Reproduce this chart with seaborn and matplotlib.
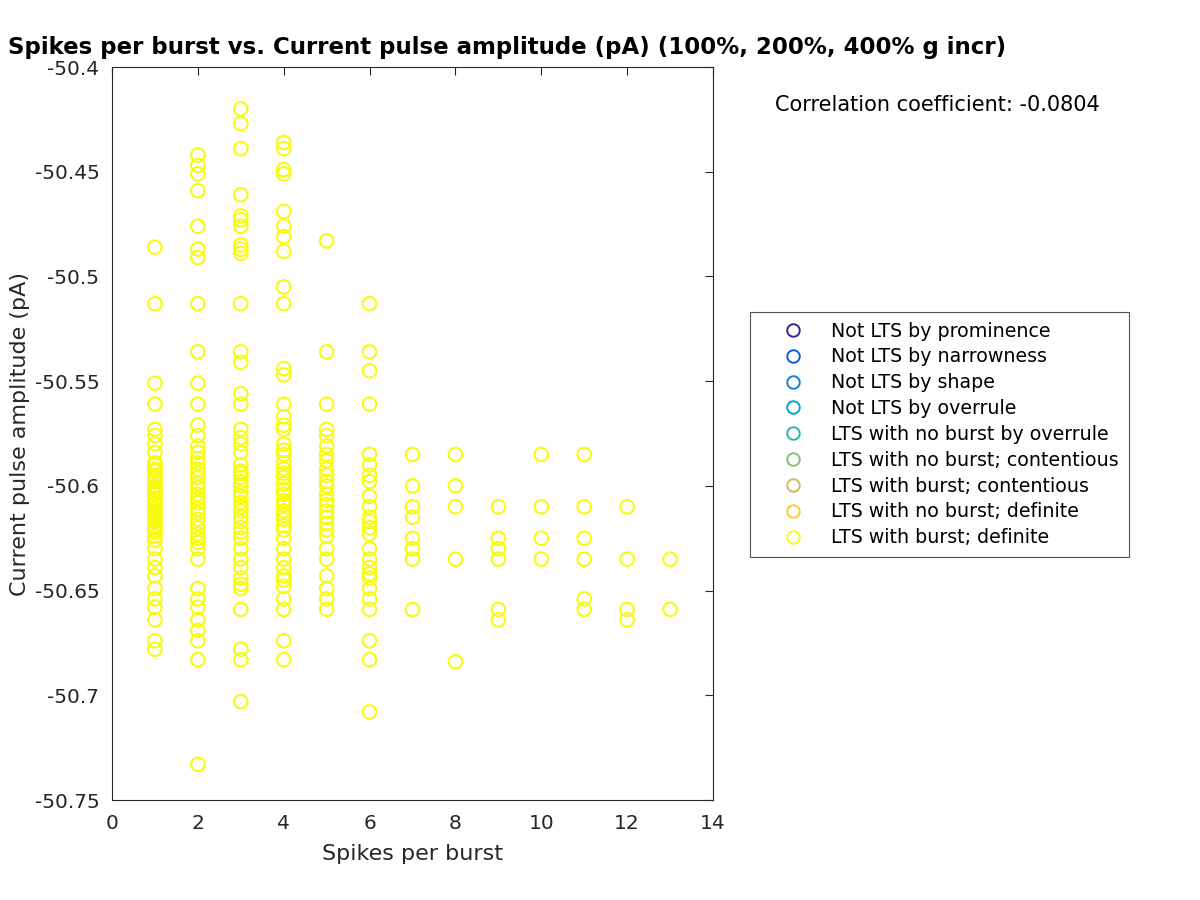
import numpy as np
import pandas as pd
import matplotlib
matplotlib.use("Agg")
import matplotlib.pyplot as plt
import seaborn as sns
from matplotlib.lines import Line2D
from matplotlib.ticker import FuncFormatter

# ---- data ----
amp_1 = [-50.486, -50.513, -50.551, -50.561, -50.573, -50.576, -50.580, -50.584, -50.589,
         -50.590, -50.592, -50.593, -50.595, -50.596, -50.597, -50.598, -50.600, -50.601,
         -50.602, -50.603, -50.604, -50.606, -50.607, -50.608, -50.609, -50.611, -50.612,
         -50.613, -50.615, -50.616, -50.617, -50.619, -50.620, -50.621, -50.622, -50.624,
         -50.626, -50.630, -50.635, -50.639, -50.643, -50.649, -50.654, -50.658, -50.664,
         -50.674, -50.678]
amp_2 = [-50.442, -50.447, -50.451, -50.459, -50.476, -50.487, -50.491, -50.513, -50.536,
         -50.551, -50.561, -50.571, -50.576, -50.581, -50.584, -50.587, -50.589, -50.592,
         -50.594, -50.596, -50.599, -50.601, -50.604, -50.606, -50.608, -50.611, -50.613,
         -50.616, -50.618, -50.620, -50.623, -50.625, -50.627, -50.630, -50.635, -50.649,
         -50.654, -50.658, -50.664, -50.669, -50.674, -50.683, -50.733]
amp_3 = [-50.420, -50.427, -50.439, -50.461, -50.471, -50.473, -50.476, -50.485, -50.487,
         -50.489, -50.513, -50.536, -50.541, -50.556, -50.561, -50.573, -50.577, -50.580,
         -50.584, -50.590, -50.593, -50.594, -50.596, -50.598, -50.600, -50.603, -50.605,
         -50.608, -50.610, -50.612, -50.615, -50.617, -50.620, -50.622, -50.625, -50.630,
         -50.635, -50.639, -50.644, -50.647, -50.649, -50.659, -50.678, -50.683, -50.703]
amp_4 = [-50.436, -50.439, -50.449, -50.451, -50.469, -50.476, -50.481, -50.488, -50.505,
         -50.513, -50.544, -50.547, -50.561, -50.567, -50.571, -50.573, -50.580, -50.583,
         -50.585, -50.589, -50.592, -50.594, -50.596, -50.599, -50.602, -50.604, -50.607,
         -50.609, -50.612, -50.614, -50.616, -50.619, -50.621, -50.625, -50.630, -50.635,
         -50.639, -50.643, -50.645, -50.648, -50.654, -50.659, -50.674, -50.683]
amp_5 = [-50.483, -50.536, -50.561, -50.573, -50.576, -50.581, -50.585, -50.588, -50.592,
         -50.595, -50.598, -50.600, -50.604, -50.607, -50.609, -50.612, -50.615, -50.618,
         -50.621, -50.624, -50.630, -50.635, -50.643, -50.649, -50.654, -50.659]
amp_6 = [-50.513, -50.536, -50.545, -50.561, -50.585, -50.590, -50.595, -50.598, -50.605,
         -50.610, -50.615, -50.617, -50.620, -50.623, -50.630, -50.635, -50.639, -50.642,
         -50.644, -50.649, -50.654, -50.659, -50.674, -50.683, -50.708]
amp_7 = [-50.585, -50.600, -50.610, -50.615, -50.625, -50.630, -50.635, -50.659]
amp_8 = [-50.585, -50.600, -50.610, -50.635, -50.684]
amp_9 = [-50.610, -50.625, -50.630, -50.635, -50.659, -50.664]
amp_10 = [-50.585, -50.610, -50.625, -50.635]
amp_11 = [-50.585, -50.610, -50.625, -50.635, -50.654, -50.659]
amp_12 = [-50.610, -50.635, -50.659, -50.664]
amp_13 = [-50.635, -50.659]

spike_counts = list(range(1, 14))
amp_columns = [amp_1, amp_2, amp_3, amp_4, amp_5, amp_6, amp_7, amp_8, amp_9,
               amp_10, amp_11, amp_12, amp_13]

categories = ["Not LTS by prominence", "Not LTS by narrowness", "Not LTS by shape",
              "Not LTS by overrule", "LTS with no burst by overrule",
              "LTS with no burst; contentious", "LTS with burst; contentious",
              "LTS with no burst; definite", "LTS with burst; definite"]
category_colors = ["#352A87", "#0F5CDD", "#1481D6", "#06A4CA", "#2EB7A4",
                   "#87BF77", "#D1BB59", "#FEC832", "#F9FB0E"]

x_ticks = [0, 2, 4, 6, 8, 10, 12, 14]
y_ticks = [-50.75, -50.7, -50.65, -50.6, -50.55, -50.5, -50.45, -50.4]

title_text = "Spikes per burst vs. Current pulse amplitude (pA) (100%, 200%, 400% g incr)"
corr_text = "Correlation coefficient: -0.0804"

rows = []
for sc, col in zip(spike_counts, amp_columns):
    for v in col:
        rows.append({"spikes": sc, "amp": v, "class": categories[-1]})
df = pd.DataFrame(rows)

# ---- plotting ----
sns.set_theme(style="white")
plt.rcParams["font.family"] = ["DejaVu Sans"]
dark = "#262626"

fig = plt.figure(figsize=(12, 9), dpi=100)
ax = fig.add_axes([112 / 1200, 100 / 900, 601 / 1200, 733 / 900])

sns.scatterplot(data=df, x="spikes", y="amp", ax=ax, marker="o", s=95,
                facecolors="none", edgecolor=category_colors[-1], linewidth=1.5,
                legend=False)

ax.set_xlim(0, 14)
ax.set_ylim(-50.75, -50.4)
ax.set_xticks(x_ticks)
ax.set_yticks(y_ticks)
ax.yaxis.set_major_formatter(FuncFormatter(lambda v, p: f"{v:g}"))
ax.tick_params(direction="in", length=6, width=0.8, top=True, right=True,
               labelsize=14.5, colors=dark)
ax.tick_params(axis="y", pad=9)
ax.tick_params(axis="x", pad=10)
for sp in ax.spines.values():
    sp.set_visible(True)
    sp.set_color(dark)
    sp.set_linewidth(0.8)
ax.set_xlabel("Spikes per burst", fontsize=16, color=dark, labelpad=8)
ax.set_ylabel("Current pulse amplitude (pA)", fontsize=16, color=dark, labelpad=3)

fig.text(8 / 1200, 1 - 54 / 900, title_text, fontsize=16.5, fontweight="bold",
         ha="left", va="baseline", color="black")
fig.text(775 / 1200, 1 - 111 / 900, corr_text, fontsize=15, ha="left",
         va="baseline", color="black")

handles = [Line2D([], [], linestyle="none", marker="o", markersize=9,
                  markerfacecolor="none", markeredgecolor=c, markeredgewidth=1.4)
           for c in category_colors]
leg = fig.legend(handles, categories, loc="upper left",
                 bbox_to_anchor=(750 / 1200, 1 - 312 / 900),
                 frameon=True, fancybox=False, fontsize=13.7,
                 handletextpad=0.28, labelspacing=0.36, borderpad=0.5,
                 handlelength=3.5, borderaxespad=0)
for t in leg.get_texts():
    t.set_color("black")
leg.get_frame().set_edgecolor(dark)
leg.get_frame().set_linewidth(0.8)

fig.savefig("out.png", dpi=100, facecolor="white")
